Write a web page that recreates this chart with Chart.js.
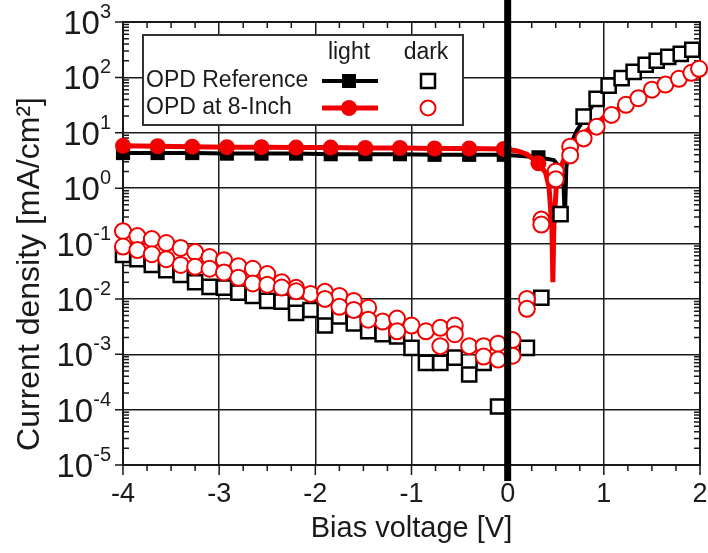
<!DOCTYPE html>
<html>
<head>
<meta charset="utf-8">
<script src="https://cdn.jsdelivr.net/npm/chart.js@4.4.1/dist/chart.umd.min.js"></script>
<style>
  html, body { margin: 0; padding: 0; background: #fff; }
  canvas { display: block; }
</style>
</head>
<body>
<canvas id="jv" width="708" height="553"></canvas>
<script>
// J-V curves of the two OPDs, light and dark.
const FONT = '"Liberation Sans", Arial, sans-serif';
const RED = '#f20000';
const INK = '#1a1a1a';

// ---- Data (V in volts, J in mA/cm2) ----
const lightMarkerV = [-4, -3.64, -3.28, -2.92, -2.56, -2.2, -1.84, -1.48, -1.12, -0.76, -0.4, -0.04, 0.32];

const refLightV = [-4, -3.64, -3.28, -2.92, -2.56, -2.2, -1.84, -1.48, -1.12, -0.76, -0.4, -0.04,
  0.32, 0.4, 0.48, 0.55, 0.58, 0.595, 0.61, 0.65, 0.72, 0.8, 0.92, 1.05, 1.2, 1.4, 1.6, 1.8, 1.95];
const refLightJ = [4.3, 4.3, 4.3, 4.2, 4.2, 4.2, 4.1, 4.1, 4.1, 4.0, 4.0, 4.0,
  3.6, 3.4, 3.2, 2.3, 1.2, 0.27, 2.4, 6, 11, 18, 40, 68, 95, 150, 205, 265, 320];

const inchLightV = [-4, -3.64, -3.28, -2.92, -2.56, -2.2, -1.84, -1.48, -1.12, -0.76, -0.4, -0.04,
  0.1, 0.2, 0.32, 0.395, 0.43, 0.46, 0.47, 0.48, 0.51, 0.56, 0.63, 0.7, 0.8, 0.9, 1.0, 1.2, 1.4, 1.6, 1.8, 2.0];
const inchLightJ = [5.8, 5.7, 5.6, 5.5, 5.5, 5.4, 5.4, 5.3, 5.3, 5.2, 5.2, 5.1,
  4.7, 4.1, 2.8, 1.9, 1.05, 0.2, 0.02, 0.2, 1.4, 2.6, 4.9, 7, 10, 14, 19, 30, 44, 66, 96, 150];

const refDarkV = [-4, -3.85, -3.7, -3.55, -3.4, -3.25, -3.1, -2.95, -2.8, -2.65, -2.5, -2.35, -2.2, -2.05,
  -1.9, -1.75, -1.6, -1.45, -1.3, -1.15, -1, -0.85, -0.7, -0.55, -0.4, -0.25, -0.1,
  0.2, 0.35, 0.55, 0.79, 0.925, 1.05, 1.185, 1.31, 1.435, 1.55, 1.67, 1.8, 1.92];
const refDarkJ = [0.062, 0.052, 0.041, 0.033, 0.027, 0.020, 0.0165, 0.016, 0.013, 0.0113, 0.0092, 0.0089, 0.0056, 0.0063,
  0.0033, 0.0048, 0.0036, 0.0026, 0.0023, 0.0021, 0.0013, 0.0007, 0.0007, 0.00087, 0.00043, 0.0007, 0.000114,
  0.0013, 0.0105, 0.34, 19.6, 41, 71, 97, 126, 169, 200, 235, 265, 315];

// two reverse sweeps + forward branch
const inchDarkV = [-4, -3.85, -3.7, -3.55, -3.4, -3.25, -3.1, -2.95, -2.8, -2.65, -2.5, -2.35, -2.2, -2.05,
  -1.9, -1.75, -1.6, -1.45, -1.3, -1.15, -1, -0.85, -0.7, -0.55, -0.4, -0.25, -0.1, 0.05, 0.2, 0.35, 0.5, 0.65,
  -4, -3.85, -3.7, -3.55, -3.4, -3.25, -3.1, -2.95, -2.8, -2.65, -2.5, -2.35, -2.2,
  -1.9, -1.75, -1.6, -1.45, -1.15, -0.7, -0.55, -0.25, -0.1, 0.05, 0.2, 0.35, 0.5, 0.65,
  0.79, 0.925, 1.08, 1.23, 1.36, 1.5, 1.64, 1.78, 1.91, 1.99];
const inchDarkJ = [0.167, 0.136, 0.12, 0.102, 0.083, 0.070, 0.057, 0.050, 0.039, 0.035, 0.028, 0.020, 0.0158, 0.0123,
  0.0134, 0.0113, 0.0092, 0.0069, 0.0039, 0.0044, 0.0033, 0.0026, 0.0030, 0.0033, 0.0014, 0.0014, 0.00155, 0.0018, 0.010, 0.27, 2.0, 5.6,
  0.088, 0.076, 0.064, 0.052, 0.041, 0.038, 0.035, 0.030, 0.024, 0.019, 0.018, 0.016, 0.0137,
  0.010, 0.0072, 0.0063, 0.0042, 0.0026, 0.0014, 0.0023, 0.00091, 0.0008, 0.00094, 0.0066, 0.22, 1.45, 3.9,
  7.9, 12.9, 21, 32, 42, 60, 74, 94, 121, 143];

const xTicks = [-4, -3, -2, -1, 0, 1, 2];
const yExp = [-5, -4, -3, -2, -1, 0, 1, 2, 3];

// ---- Helpers ----
function pts(xs, ys) { return xs.map((v, i) => ({ x: v, y: ys[i] })); }
const isMarker = (c) => c.raw && lightMarkerV.includes(c.raw.x);

// ---- Frame, minor ticks, zero line, labels, legend ----
const decor = {
  id: 'decor',
  beforeDatasetsDraw(chart) {
    const { ctx, chartArea: a, scales: { x, y } } = chart;
    ctx.save();
    ctx.strokeStyle = INK;
    ctx.lineWidth = 2;
    ctx.strokeRect(a.left, a.top, a.right - a.left, a.bottom - a.top);
    ctx.lineWidth = 1.5;
    ctx.beginPath();
    for (let v = -4; v <= 2; v += 0.25) {
      const px = x.getPixelForValue(v);
      const major = Number.isInteger(v);
      ctx.moveTo(px, a.bottom); ctx.lineTo(px, a.bottom + (major ? 10 : 6));
      if (!major) { ctx.moveTo(px, a.top); ctx.lineTo(px, a.top + 6); }
    }
    for (const e of yExp) {
      const py = y.getPixelForValue(10 ** e);
      ctx.moveTo(a.left - 8, py); ctx.lineTo(a.left, py);
      if (e === 3) continue;
      for (let m = 2; m <= 9; m++) {
        const pm = y.getPixelForValue(m * 10 ** e);
        ctx.moveTo(a.left, pm); ctx.lineTo(a.left + 6, pm);
        ctx.moveTo(a.right, pm); ctx.lineTo(a.right - 6, pm);
      }
    }
    ctx.stroke();
    ctx.restore();
  },
  afterDatasetsDraw(chart) {
    const { ctx, chartArea: a, scales: { x, y } } = chart;
    ctx.save();
    // thick V = 0 line
    const x0 = x.getPixelForValue(0);
    ctx.fillStyle = '#000';
    ctx.fillRect(x0 - 3.5, 0, 7, a.bottom + 16);

    // x tick labels
    ctx.fillStyle = INK;
    ctx.font = `27px ${FONT}`;
    ctx.textAlign = 'center';
    ctx.textBaseline = 'alphabetic';
    for (const v of xTicks) ctx.fillText(String(v), x.getPixelForValue(v), 502);

    // y tick labels 10^n
    ctx.textAlign = 'left';
    for (const e of yExp) {
      const py = y.getPixelForValue(10 ** e);
      const ex = String(e);
      ctx.font = `20px ${FONT}`;
      const we = ctx.measureText(ex).width;
      ctx.font = `33px ${FONT}`;
      const wb = ctx.measureText('10').width;
      const right = a.left - 12;
      ctx.fillText('10', right - we - wb, py + 12);
      ctx.font = `20px ${FONT}`;
      ctx.fillText(ex, right - we, py - 4);
    }

    // axis titles
    ctx.textAlign = 'center';
    ctx.textBaseline = 'middle';
    ctx.font = `29px ${FONT}`;
    ctx.fillText('Bias voltage [V]', (a.left + a.right) / 2, 529);
    ctx.translate(30, 274);
    ctx.rotate(-Math.PI / 2);
    ctx.font = `32px ${FONT}`;
    ctx.fillText('Current density [mA/cm²]', 0, 0);
    ctx.restore();

    drawLegend(ctx);
  },
};

function drawLegend(ctx) {
  ctx.save();
  ctx.fillStyle = '#fff';
  ctx.strokeStyle = '#333';
  ctx.lineWidth = 2;
  ctx.fillRect(143, 35, 320, 90);
  ctx.strokeRect(143, 35, 320, 90);

  ctx.fillStyle = INK;
  ctx.font = `23px ${FONT}`;
  ctx.textBaseline = 'middle';
  ctx.textAlign = 'center';
  ctx.fillText('light', 349, 53);
  ctx.fillText('dark', 426, 53);
  ctx.textAlign = 'left';
  ctx.fillText('OPD Reference', 146, 81);
  ctx.fillText('OPD at 8-Inch', 146, 108);

  // light samples
  ctx.lineWidth = 4; ctx.strokeStyle = '#000';
  ctx.beginPath(); ctx.moveTo(322, 81); ctx.lineTo(378, 81); ctx.stroke();
  ctx.fillStyle = '#000'; ctx.fillRect(342, 74, 14, 14);
  ctx.lineWidth = 5; ctx.strokeStyle = RED;
  ctx.beginPath(); ctx.moveTo(322, 108); ctx.lineTo(378, 108); ctx.stroke();
  ctx.fillStyle = RED; ctx.beginPath(); ctx.arc(349, 108, 8, 0, Math.PI * 2); ctx.fill();

  // dark samples
  ctx.lineWidth = 2.5; ctx.strokeStyle = '#000';
  ctx.strokeRect(421, 74, 14, 14);
  ctx.lineWidth = 2; ctx.strokeStyle = RED;
  ctx.beginPath(); ctx.arc(428, 108, 7.5, 0, Math.PI * 2); ctx.stroke();
  ctx.restore();
}

// ---- Chart ----
new Chart(document.getElementById('jv'), {
  type: 'scatter',
  data: {
    datasets: [
      { label: 'OPD at 8-Inch dark', data: pts(inchDarkV, inchDarkJ), order: 0, clip: false,
        pointStyle: 'circle', pointRadius: 8, pointBorderWidth: 2,
        pointBorderColor: RED, pointBackgroundColor: '#fff' },
      { label: 'OPD Reference dark', data: pts(refDarkV, refDarkJ), order: 1, clip: false,
        pointStyle: 'rect', pointRadius: 10, pointBorderWidth: 2.5,
        pointBorderColor: '#000', pointBackgroundColor: '#fff' },
      { label: 'OPD at 8-Inch light', data: pts(inchLightV, inchLightJ), order: 2, clip: false,
        showLine: true, borderColor: RED, borderWidth: 5, tension: 0,
        pointStyle: 'circle', pointRadius: (c) => (isMarker(c) ? 8 : 0), pointBorderWidth: 0,
        pointBackgroundColor: RED, pointBorderColor: RED },
      { label: 'OPD Reference light', data: pts(refLightV, refLightJ), order: 3, clip: false,
        showLine: true, borderColor: '#000', borderWidth: 4, tension: 0,
        pointStyle: 'rect', pointRadius: (c) => (isMarker(c) ? 10 : 0), pointBorderWidth: 0,
        pointBackgroundColor: '#000', pointBorderColor: '#000' },
    ],
  },
  options: {
    responsive: false,
    animation: false,
    devicePixelRatio: 1,
    events: [],
    layout: { autoPadding: false, padding: { top: 22, right: 8, left: 0, bottom: 0 } },
    plugins: { legend: { display: false }, tooltip: { enabled: false } },
    scales: {
      x: {
        type: 'linear', min: -4, max: 2,
        afterBuildTicks: (s) => { s.ticks = xTicks.map((v) => ({ value: v })); },
        afterFit: (s) => { s.height = 88; },
        ticks: { display: false },
        grid: { color: INK, lineWidth: 1.5, drawTicks: false },
        border: { display: true, color: INK, width: 2 },
      },
      y: {
        type: 'logarithmic', min: 1e-5, max: 1e3,
        afterBuildTicks: (s) => { s.ticks = yExp.map((e) => ({ value: 10 ** e })); },
        afterFit: (s) => { s.width = 123; },
        ticks: { display: false },
        grid: { color: INK, lineWidth: 1.5, drawTicks: false },
        border: { display: true, color: INK, width: 2 },
      },
    },
  },
  plugins: [decor],
});
</script>
</body>
</html>
